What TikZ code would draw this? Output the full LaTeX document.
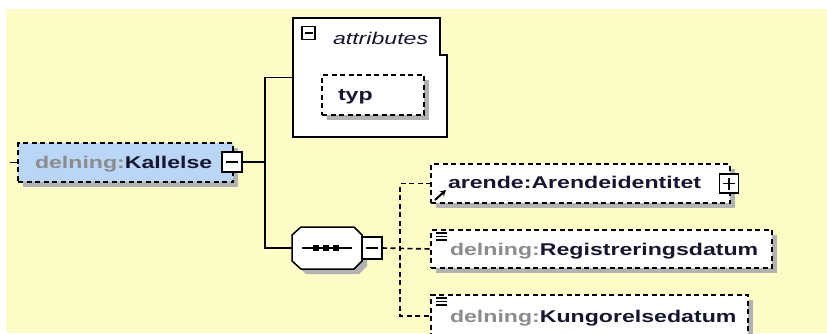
\documentclass[tikz,border=0pt]{standalone}
\usepackage{fontspec}
\setmainfont{Liberation Sans}[FakeStretch=1.36]
\usetikzlibrary{shadows,arrows.meta}
\definecolor{bgy}{RGB}{254,252,198}
\definecolor{kblue}{RGB}{186,214,246}
\definecolor{shdc}{RGB}{178,178,178}
\definecolor{pfx}{RGB}{140,140,140}
\definecolor{nm}{RGB}{22,22,48}
\begin{document}
\begin{tikzpicture}[x=1pt,y=-1pt,
  every node/.style={inner sep=0pt, outer sep=0pt},
  dbox/.style={draw=black, line width=1.6pt, dash pattern=on 5pt off 3.5pt},
  shd/.style={drop shadow={shadow xshift=5pt, shadow yshift=-5pt, fill=shdc, opacity=1}},
  sbox/.style={draw=black, line width=1.5pt, fill=white},
  conn/.style={draw=black, line width=1.8pt},
  dconn/.style={draw=black, line width=1.6pt, dash pattern=on 5pt off 3.5pt},
  txt/.style={anchor=base west, font=\fontsize{17}{20}\selectfont\bfseries},
  itxt/.style={anchor=base west, font=\fontsize{17}{20}\selectfont\itshape, text=nm},
  sign/.style={draw=black, line width=1.5pt}
]
\useasboundingbox (0,0) rectangle (827,333);
\fill[white] (0,0) rectangle (827,333);
\fill[bgy] (6,9) rectangle (827,333);

% root element
\node[dbox, fill=kblue, shd, minimum width=215pt, minimum height=39pt] (kal) at (125.5,162.5) {};
\node[sbox, minimum size=20pt] (kmin) at (232,162) {};
\draw[sign] ([xshift=-6pt]kmin.center) -- ([xshift=6pt]kmin.center);
\node[txt] (kt) at (35,168) {\textcolor{pfx}{delning:}\textcolor{nm}{Kallelse}};
\coordinate (kl) at (10,162.5);
\draw[conn] (kl) -- (kal.west);

% attributes box
\node[minimum width=154pt, minimum height=119pt] (attr) at (370,77.5) {};
\draw[sbox] (attr.north west) -- ([xshift=-7pt]attr.north east) -- ([xshift=-7pt,yshift=-37pt]attr.north east) -- ([yshift=-37pt]attr.north east) -- (attr.south east) -- (attr.south west) -- cycle;
\node[draw=black, line width=1.3pt, fill=white, minimum size=13pt] (amin) at (308.5,33) {};
\draw[line width=1.3pt] ([xshift=-4pt]amin.center) -- ([xshift=4pt]amin.center);
\node[itxt] (at) at (333,44) {attributes};
\node[dbox, fill=white, shd, minimum width=102pt, minimum height=40pt] (typ) at (373,95) {};
\node[txt] (tt) at (338,100) {\textcolor{nm}{typ}};

% sequence compositor
\node[minimum width=70pt, minimum height=42pt] (seq) at (327,248) {};
\path[sbox, shd] ([xshift=9pt]seq.north west) -- ([xshift=-8pt]seq.north east) -- ([yshift=-8pt]seq.north east) -- ([yshift=8pt]seq.south east) -- ([xshift=-8pt]seq.south east) -- ([xshift=9pt]seq.south west) -- ([yshift=8pt]seq.south west) -- ([yshift=-8pt]seq.north west) -- cycle;
\draw[line width=1.5pt] ([xshift=10pt]seq.west) -- ([xshift=-10pt]seq.east);
\foreach \px in {316,326,336} \fill (\px,248) +(-3,-3) rectangle +(3,3);
\node[sbox, minimum width=20pt, minimum height=22pt] (smin) at (372,248) {};
\draw[sign] ([xshift=-6pt]smin.center) -- ([xshift=6pt]smin.center);

% solid connectors
\coordinate (j) at (265,162);
\draw[conn] (kmin.east) -- (j);
\draw[conn] (attr.west) -- (j |- attr.west) -- (j |- seq.west) -- (seq.west);

% children
\node[dbox, fill=white, shd, minimum width=299pt, minimum height=39pt] (c1) at (580.5,183.5) {};
\node[sbox, minimum size=19pt] (p1) at (729,183.5) {};
\draw[sign] ([xshift=-6pt]p1.center) -- ([xshift=6pt]p1.center);
\draw[sign] ([yshift=-6pt]p1.center) -- ([yshift=6pt]p1.center);
\node[txt] (t1) at (448,188) {\textcolor{nm}{arende:Arendeidentitet}};
\draw[-{Stealth[length=6pt,width=6.5pt]}, line width=2pt] (435,200) -- (446,190);

\node[dbox, fill=white, shd, minimum width=341pt, minimum height=38pt] (c2) at (601.5,249) {};
\node[txt] (t2) at (450,255) {\textcolor{pfx}{delning:}\textcolor{nm}{Registreringsdatum}};
\foreach \yy in {233,236.5,240} \draw[line width=1.3pt] (436,\yy) -- (447,\yy);

\node[dbox, fill=white, shd, minimum width=317pt, minimum height=42pt] (c3) at (589.5,316) {};
\node[txt] (t3) at (450,322) {\textcolor{pfx}{delning:}\textcolor{nm}{Kungorelsedatum}};
\foreach \yy in {298,301.5,305} \draw[line width=1.3pt] (436,\yy) -- (447,\yy);

% dashed connectors
\coordinate (v) at (400,248);
\draw[dconn] (smin.east) -- (c2.west);
\draw[dconn] (c1.west) -- (v |- c1.west) -- (v |- c3.west) -- (c3.west);
\end{tikzpicture}
\end{document}
